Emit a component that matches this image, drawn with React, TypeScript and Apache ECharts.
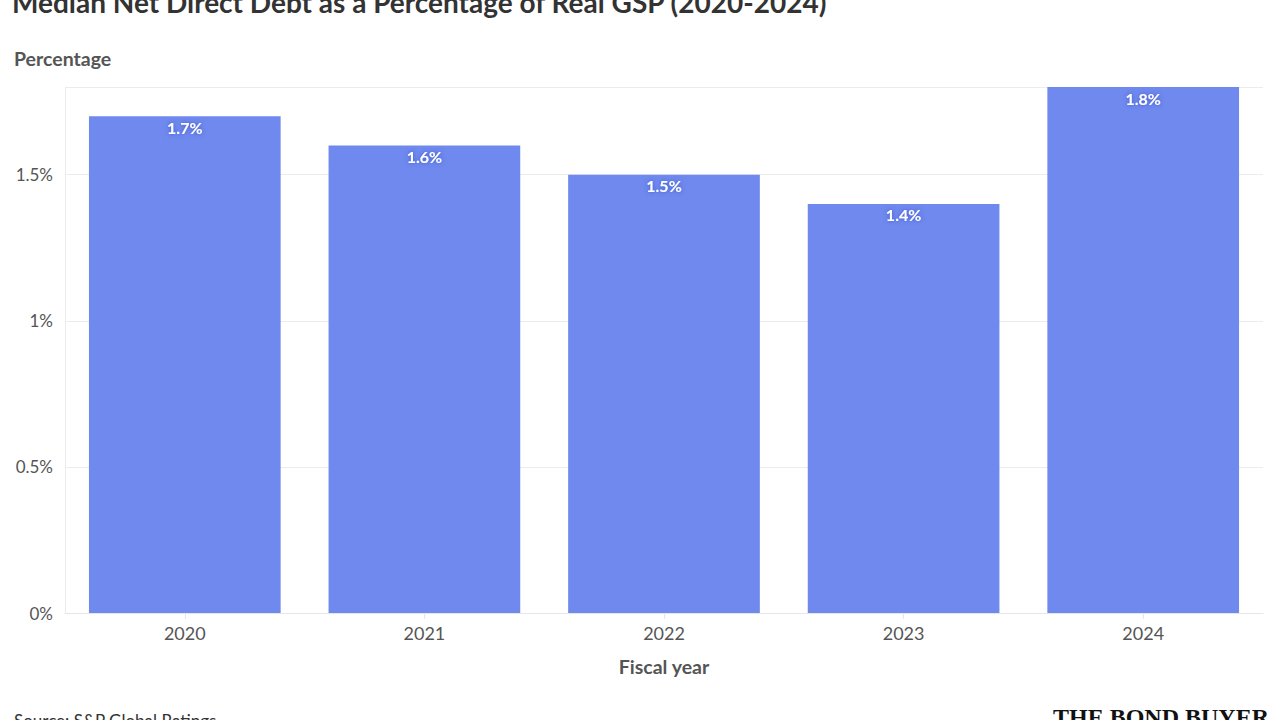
import React, { useEffect, useRef } from "react";
import * as echarts from "echarts";

const categories = ["2020", "2021", "2022", "2023", "2024"];
const values = [1.7, 1.6, 1.5, 1.4, 1.8];
const yTicks = [0, 0.5, 1, 1.5];

const FONT = "Lato, 'Noto Sans', sans-serif";

export default function App() {
  const ref = useRef<HTMLDivElement>(null);
  useEffect(() => {
    if (!ref.current) return;
    const chart = echarts.init(ref.current, null, { renderer: "svg" });
    chart.setOption({
      animation: false,
      backgroundColor: "#ffffff",
      textStyle: { fontFamily: FONT },
      grid: { left: 65, right: 17, top: 87, bottom: 107, containLabel: false },
      graphic: [
        {
          type: "text",
          left: 12,
          top: -12,
          style: {
            text: "Median Net Direct Debt as a Percentage of Real GSP (2020-2024)",
            font: `bold 28px ${FONT}`,
            fill: "#333333",
          },
        },
        {
          type: "text",
          left: 14,
          top: 48,
          style: {
            text: "Percentage",
            font: `bold 19.5px ${FONT}`,
            fill: "#555555",
          },
        },
        {
          type: "text",
          x: 664,
          y: 656,
          style: {
            text: "Fiscal year",
            font: `bold 19.5px ${FONT}`,
            fill: "#555555",
            align: "center",
            verticalAlign: "top",
          },
        },
        {
          type: "text",
          left: 14,
          top: 712,
          style: {
            text: "Source: S&P Global Ratings",
            font: `17px ${FONT}`,
            fill: "#333333",
          },
        },
        {
          type: "text",
          left: 1053,
          top: 705,
          style: {
            text: "THE BOND BUYER",
            font: `bold 24px 'Liberation Serif', 'DejaVu Serif', serif`,
            fill: "#111111",
          },
        },
      ],
      xAxis: {
        type: "category",
        data: categories,
        axisLine: { show: true, lineStyle: { color: "#e6e6e6" } },
        axisTick: { show: true, alignWithLabel: true, length: 6, lineStyle: { color: "#e6e6e6" } },
        axisLabel: { color: "#555555", fontSize: 18, margin: 11, fontFamily: FONT },
      },
      yAxis: {
        type: "value",
        min: 0,
        max: 1.8,
        interval: 0.5,
        axisLine: { show: true, lineStyle: { color: "#ececec" } },
        axisTick: { show: false },
        splitLine: { show: true, lineStyle: { color: "#ececec" } },
        axisLabel: {
          color: "#555555",
          fontSize: 17,
          margin: 12,
          fontFamily: FONT,
          customValues: yTicks,
          formatter: (v: number) => `${v}%`,
        },
      },
      series: [
        {
          type: "bar",
          data: values,
          barCategoryGap: "20%",
          itemStyle: { color: "#6f89ee" },
          label: {
            show: true,
            position: "insideTop",
            distance: 3,
            formatter: (p: any) => `${p.value}%`,
            color: "#ffffff",
            fontSize: 16,
            fontWeight: "bold",
            fontFamily: FONT,
            textShadowColor: "#3a56cc",
            textShadowBlur: 4,
          },
        },
      ],
    });
    return () => chart.dispose();
  }, []);
  return <div ref={ref} style={{ width: 1280, height: 720, position: "fixed", left: 0, top: 0 }} />;
}
